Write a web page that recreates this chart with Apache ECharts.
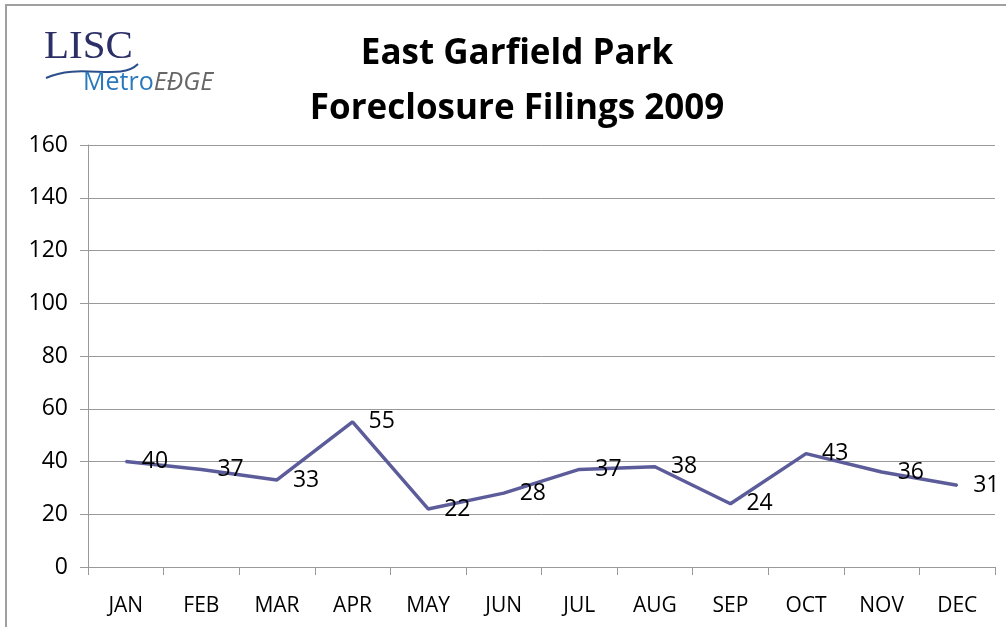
<!DOCTYPE html>
<html>
<head>
<meta charset="utf-8">
<script src="https://cdn.jsdelivr.net/npm/echarts@6/dist/echarts.min.js"></script>
<style>
  html, body { margin: 0; padding: 0; background: #fff; }
  #chart { width: 1006px; height: 627px; }
</style>
</head>
<body>
<div id="chart"></div>
<script>
const months = ['JAN', 'FEB', 'MAR', 'APR', 'MAY', 'JUN', 'JUL', 'AUG', 'SEP', 'OCT', 'NOV', 'DEC']
const filings = [40, 37, 33, 55, 22, 28, 37, 38, 24, 43, 36, 31]
const titleLines = ['East Garfield Park', 'Foreclosure Filings 2009']

const font = '"Open Sans", "Noto Sans", sans-serif'
let chart = echarts.init(document.getElementById('chart'))

const option = {
  animation: false,
  backgroundColor: '#fff',
  title: {
    text: titleLines.join('\n'),
    left: 512,
    top: 22,
    textAlign: 'center',
    textStyle: {
      fontFamily: font,
      fontWeight: 'bold',
      fontSize: 35,
      lineHeight: 55,
      color: '#000'
    }
  },
  graphic: [
    // outer frame
    {
      type: 'rect',
      shape: { x: 6, y: 5, width: 1100, height: 700 },
      style: { fill: 'none', stroke: '#a0a0a0', lineWidth: 2 }
    },
    // logo
    {
      type: 'text',
      left: 44, top: 27,
      style: { text: 'LISC', font: '41px "Liberation Serif", serif', fill: '#2b2f66' }
    },
    {
      type: 'bezierCurve',
      shape: { x1: 46, y1: 78, cpx1: 80, cpy1: 62, cpx2: 120, cpy2: 82, x2: 138, y2: 64 },
      style: { stroke: '#2b4f8a', lineWidth: 2, fill: 'none' }
    },
    {
      type: 'text',
      left: 83, top: 70,
      style: {
        text: '{a|Metro}{b|EÐGE}',
        rich: {
          a: { font: '25px "Open Sans", sans-serif', fill: '#2a79bd' },
          b: { font: 'italic 25px "Open Sans", sans-serif', fill: '#666' }
        }
      }
    }
  ],
  grid: {
    left: 88,
    right: 11,
    top: 145,
    bottom: 60
  },
  xAxis: {
    type: 'category',
    data: months,
    boundaryGap: true,
    axisLine: { lineStyle: { color: '#999', width: 1 } },
    axisTick: { show: true, length: 8, alignWithLabel: false, lineStyle: { color: '#999' } },
    axisLabel: { color: '#000', fontFamily: font, fontSize: 21, margin: 29 }
  },
  yAxis: {
    type: 'value',
    min: 0,
    max: 160,
    interval: 20,
    axisLine: { show: true, lineStyle: { color: '#999', width: 1 } },
    axisTick: { show: true, length: 8, inside: false, lineStyle: { color: '#999' } },
    splitLine: { lineStyle: { color: '#999', width: 1 } },
    axisLabel: { color: '#000', fontFamily: font, fontSize: 23, margin: 20 }
  },
  series: [
    {
      type: 'line',
      data: filings,
      symbol: 'circle',
      symbolSize: 2,
      showSymbol: true,
      itemStyle: { color: '#5c5c9a' },
      lineStyle: { color: '#5c5c9a', width: 3.5 },
      label: {
        show: true,
        position: 'right',
        distance: 15,
        offset: [0, 4],
        color: '#000',
        fontFamily: font,
        fontSize: 23
      },
      labelLayout: { hideOverlap: false }
    }
  ]
}

chart.setOption(option)
</script>
</body>
</html>
